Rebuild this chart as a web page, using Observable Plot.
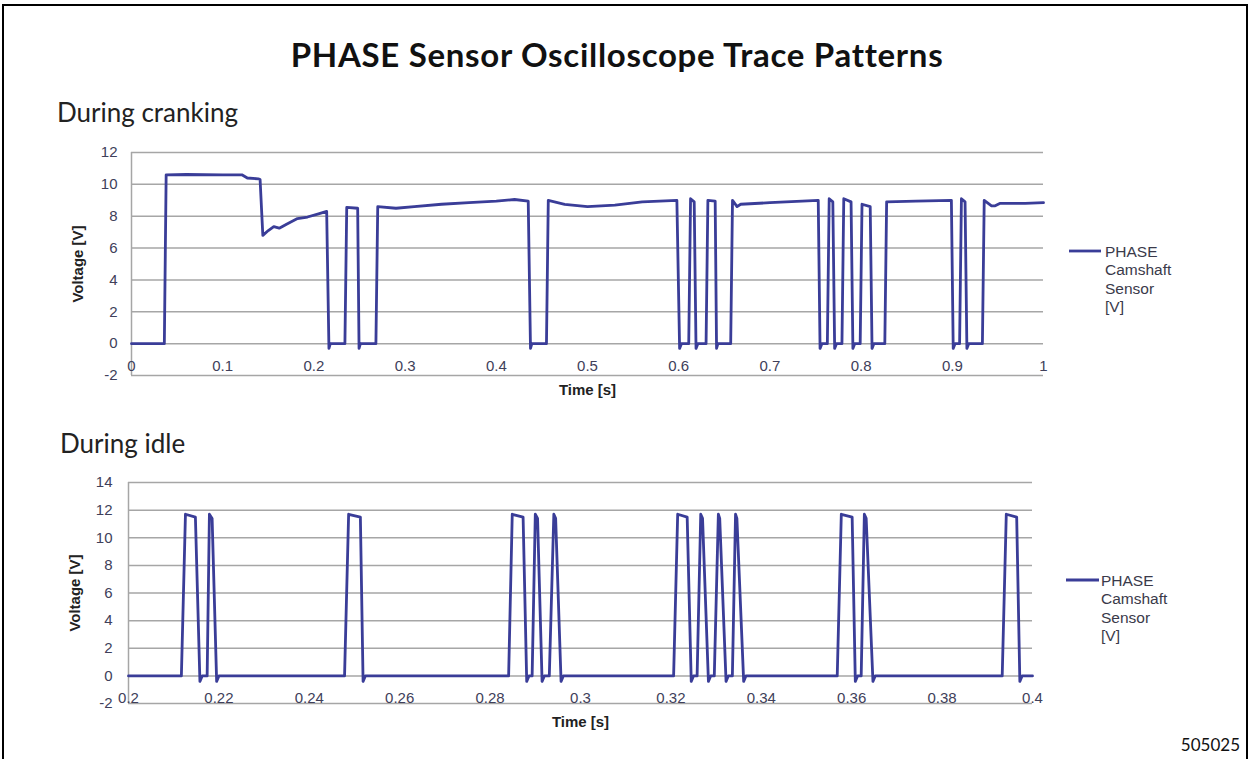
<!DOCTYPE html>
<html><head><meta charset="utf-8">
<script src="https://cdn.jsdelivr.net/npm/d3@7"></script>
<script src="https://cdn.jsdelivr.net/npm/@observablehq/plot@0.6"></script>
<style>
html,body{margin:0;padding:0;background:#fff;}
#page{position:relative;width:1249px;height:759px;overflow:hidden;background:#fff;}
#page > svg{position:absolute;left:0;}
#overlay{top:0;}
#crank{top:140px;}
#idle{top:470px;}
</style></head><body>
<div id="page">
<svg id="overlay" width="1249" height="759" style="position:absolute;left:0;top:0;">
  <rect x="2" y="4" width="1245" height="2" fill="#000"/>
  <rect x="2" y="4" width="2" height="755" fill="#000"/>
  <rect x="1246" y="4" width="2" height="755" fill="#000"/>
  <text x="617" y="67" text-anchor="middle" font-family="Lato" font-weight="bold" font-size="33" letter-spacing="0.7" fill="#111">PHASE Sensor Oscilloscope Trace Patterns</text>
  <text x="57" y="122" font-family="Lato" font-size="26" fill="#222">During cranking</text>
  <text x="60" y="453" font-family="Lato" font-size="26" fill="#222">During idle</text>
  <text x="1240" y="751" text-anchor="end" font-family="Lato" font-size="17" fill="#111">505025</text>
  <g font-family="Liberation Sans, Arial, sans-serif" font-size="15.5" fill="#3a3a4a">
    <line x1="1069" y1="251" x2="1101" y2="251" stroke="#3a3d98" stroke-width="2.8"/>
    <text x="1105" y="256.5">PHASE</text>
    <text x="1105" y="275">Camshaft</text>
    <text x="1105" y="293.5">Sensor</text>
    <text x="1105" y="312">[V]</text>
    <line x1="1066" y1="580" x2="1099" y2="580" stroke="#3a3d98" stroke-width="2.8"/>
    <text x="1101" y="585.5">PHASE</text>
    <text x="1101" y="604">Camshaft</text>
    <text x="1101" y="622.5">Sensor</text>
    <text x="1101" y="641">[V]</text>
  </g>
</svg>
</div>
<script>
// ---- During cranking ----
const crankT = [0, 0.036, 0.038, 0.06, 0.10, 0.121, 0.127, 0.139, 0.141, 0.144, 0.150, 0.156, 0.162, 0.170, 0.182, 0.193, 0.205, 0.214, 0.2165, 0.218,
  0.234, 0.236, 0.248, 0.2495, 0.251,
  0.268, 0.270, 0.29, 0.31, 0.34, 0.37, 0.40, 0.42, 0.435, 0.4375, 0.439,
  0.455, 0.457, 0.475, 0.50, 0.53, 0.56, 0.598, 0.601, 0.603,
  0.611, 0.613, 0.617, 0.619, 0.621,
  0.630, 0.632, 0.640, 0.6415, 0.643,
  0.657, 0.659, 0.664, 0.668, 0.70, 0.753, 0.755, 0.757,
  0.763, 0.765, 0.769, 0.771, 0.773,
  0.779, 0.781, 0.789, 0.791, 0.793,
  0.799, 0.801, 0.810, 0.812, 0.814,
  0.826, 0.828, 0.86, 0.899, 0.901, 0.903,
  0.908, 0.910, 0.914, 0.916, 0.918,
  0.933, 0.935, 0.943, 0.947, 0.952, 0.98, 1.0];
const crankV = [0, 0, 10.6, 10.62, 10.6, 10.6, 10.4, 10.35, 10.3, 6.8, 7.1, 7.35, 7.25, 7.5, 7.85, 7.95, 8.15, 8.3, -0.3, 0,
  0, 8.55, 8.5, -0.3, 0,
  0, 8.6, 8.5, 8.6, 8.75, 8.85, 8.95, 9.05, 8.95, -0.3, 0,
  0, 9.0, 8.75, 8.6, 8.7, 8.9, 9.0, -0.3, 0,
  0, 9.1, 8.9, -0.3, 0,
  0, 9.0, 8.95, -0.3, 0,
  0, 9.0, 8.6, 8.75, 8.85, 9.0, -0.3, 0,
  0, 9.1, 8.9, -0.3, 0,
  0, 9.1, 8.9, -0.3, 0,
  0, 8.75, 8.6, -0.3, 0,
  0, 8.9, 8.95, 9.0, -0.3, 0,
  0, 9.1, 8.9, -0.3, 0,
  0, 9.0, 8.65, 8.65, 8.8, 8.8, 8.85];
const crankXTicks = [0, 0.1, 0.2, 0.3, 0.4, 0.5, 0.6, 0.7, 0.8, 0.9, 1];
const crankYTicks = [-2, 0, 2, 4, 6, 8, 10, 12];

// ---- During idle ----
const idleT = [0.2,
  0.2117, 0.2126, 0.2148, 0.2158, 0.2163,
  0.2174, 0.2179, 0.2185, 0.2195, 0.2200,
  0.2478, 0.2487, 0.2513, 0.2519, 0.2524,
  0.2841, 0.2849, 0.2873, 0.2881, 0.2886,
  0.2893, 0.2900, 0.2905, 0.2915, 0.2920,
  0.2931, 0.2941, 0.2945, 0.2957, 0.2962,
  0.3206, 0.3215, 0.3236, 0.3245, 0.3250,
  0.3258, 0.3266, 0.3270, 0.3283, 0.3288,
  0.3296, 0.3305, 0.3308, 0.3322, 0.3327,
  0.3336, 0.3343, 0.3346, 0.3361, 0.3366,
  0.3568, 0.3577, 0.3601, 0.3608, 0.3613,
  0.3621, 0.3628, 0.3632, 0.3647, 0.3652,
  0.3933, 0.3942, 0.3965, 0.3972, 0.3977,
  0.4];
const idleV = [0,
  0, 11.7, 11.5, -0.4, 0,
  0, 11.7, 11.4, -0.4, 0,
  0, 11.7, 11.5, -0.4, 0,
  0, 11.7, 11.5, -0.4, 0,
  0, 11.7, 11.4, -0.4, 0,
  0, 11.7, 11.4, -0.4, 0,
  0, 11.7, 11.5, -0.4, 0,
  0, 11.7, 11.4, -0.4, 0,
  0, 11.7, 11.4, -0.4, 0,
  0, 11.7, 11.4, -0.4, 0,
  0, 11.7, 11.5, -0.4, 0,
  0, 11.7, 11.4, -0.4, 0,
  0, 11.7, 11.5, -0.4, 0,
  0];
const idleXTicks = [0.2, 0.22, 0.24, 0.26, 0.28, 0.3, 0.32, 0.34, 0.36, 0.38, 0.4];
const idleYTicks = [-2, 0, 2, 4, 6, 8, 10, 12, 14];

const lineColor = "#3a3d98";
const gridColor = "#a6a6a6";
const tickColor = "#40405a";
const font = "Liberation Sans, Arial, sans-serif";

function chart({T, V, xTicks, yTicks, xDomain, yDomain, mL, mR, mB, yPad, xDy, timeDy, id}) {
  const data = T.map((t, i) => ({t, v: V[i]}));
  const svg = Plot.plot({
    width: 1249, height: 270,
    marginLeft: mL, marginRight: mR, marginTop: 12, marginBottom: mB,
    x: {domain: xDomain, label: null},
    y: {domain: yDomain, label: null},
    style: {fontFamily: font, fontSize: "15px", color: tickColor, background: "transparent"},
    marks: [
      Plot.gridY(yTicks, {stroke: gridColor, strokeOpacity: 1, strokeWidth: 1.5}),
      Plot.ruleX([xDomain[0]], {stroke: gridColor, strokeWidth: 1.5}),
      Plot.axisY(yTicks, {tickSize: 0, tickPadding: yPad, tickFormat: d => String(d), label: null, fill: tickColor, fontSize: 15}),
      Plot.axisX(xTicks, {tickSize: 0, tickPadding: 3, dy: xDy, tickFormat: d => String(d), label: null, fill: tickColor, fontSize: 15}),
      Plot.line(data, {x: "t", y: "v", stroke: lineColor, strokeWidth: 2.8, strokeLinejoin: "round"}),
      Plot.text(["Voltage [V]"], {frameAnchor: "left", dx: -53, rotate: -90, fontWeight: "bold", fontSize: 15, fill: "#222", textAnchor: "middle", lineAnchor: "middle"}),
      Plot.text(["Time [s]"], {frameAnchor: "bottom", dy: timeDy, fontWeight: "bold", fontSize: 15, fill: "#222", textAnchor: "middle", lineAnchor: "middle"})
    ]
  });
  svg.id = id;
  document.getElementById("page").appendChild(svg);
}

chart({T: crankT, V: crankV, xTicks: crankXTicks, yTicks: crankYTicks, xDomain: [0, 1], yDomain: [-2, 12],
  mL: 131, mR: 206, mB: 35, yPad: 14, xDy: -18, timeDy: 15, id: "crank"});
chart({T: idleT, V: idleV, xTicks: idleXTicks, yTicks: idleYTicks, xDomain: [0.2, 0.4], yDomain: [-2, 14],
  mL: 128, mR: 217, mB: 37, yPad: 16, xDy: -14, timeDy: 19, id: "idle"});
</script>
</body></html>
